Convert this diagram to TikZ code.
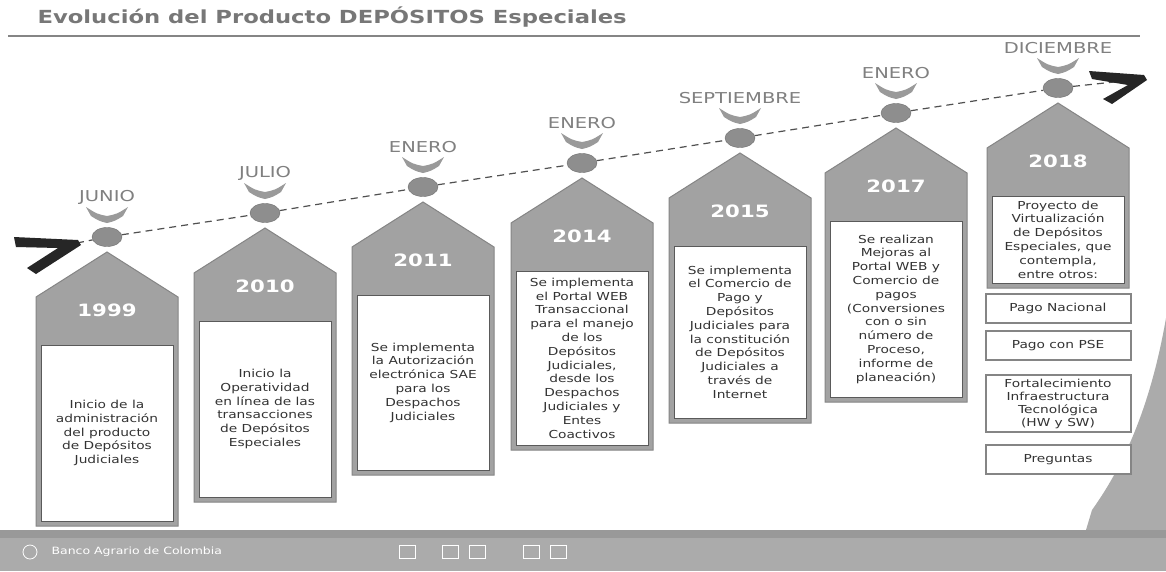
\documentclass[tikz,border=0pt]{standalone}
\usepackage{fontspec}
\usepackage{xcolor}
\usepackage{tikz}
\usetikzlibrary{positioning,shapes.geometric}
\setmainfont{DejaVu Sans}
\newfontfamily\bodyfont[FakeStretch=1.25]{DejaVu Sans}
\newfontfamily\widefont[FakeStretch=1.3]{DejaVu Sans}
\newfontfamily\yearfont[FakeStretch=1.25]{DejaVu Sans}
\newfontfamily\titlefont[FakeStretch=1.26]{DejaVu Sans}
\definecolor{tagfill}{HTML}{A2A2A2}
\definecolor{tagedge}{HTML}{858585}
\definecolor{cardedge}{HTML}{5A5A5A}
\definecolor{ink}{HTML}{333333}
\definecolor{dotfill}{HTML}{8E8E8E}
\definecolor{dotedge}{HTML}{707070}
\definecolor{chevfill}{HTML}{9A9A9A}
\definecolor{monthgray}{HTML}{808080}
\definecolor{titlegray}{HTML}{777777}
\definecolor{lineink}{HTML}{505050}
\definecolor{footgray}{HTML}{ABABAB}

\begin{document}
\begin{tikzpicture}[x=1pt, y=-1pt,
  tag/.style={fill=tagfill, draw=tagedge, line width=1pt},
  card/.style={draw=cardedge, fill=white, line width=0.8pt, minimum width=132pt, align=center, inner sep=2pt, text=ink, font=\bodyfont\fontsize{11}{13.8}\selectfont},
  extra/.style={card, draw=tagedge, line width=2pt, minimum width=145pt, minimum height=29pt, inner sep=1pt, font=\bodyfont\fontsize{11}{13}\selectfont},
  dot/.style={ellipse, fill=dotfill, draw=dotedge, minimum width=30pt, minimum height=19pt, inner sep=0pt},
  chev/.style={fill=chevfill},
  month/.style={text=monthgray, font=\widefont\fontsize{15}{17}\selectfont},
  year/.style={text=white, font=\yearfont\bfseries\fontsize{17}{20}\selectfont},
  timeline/.style={draw=lineink, line width=1.2pt, dash pattern=on 7pt off 5pt},
  icon/.style={draw=white, line width=0.8pt, minimum width=16pt, minimum height=13pt, inner sep=0pt}]
  \useasboundingbox (0,0) rectangle (1166,571);
  \fill[white] (0,0) rectangle (1166,571);

  % title and rule
  \node[anchor=west, text=titlegray, font=\titlefont\bfseries\fontsize{18}{21}\selectfont] (title) at (34,17) {Evolución del Producto DEPÓSITOS Especiales};
  \draw[tagedge, line width=1.5pt] (8,36) -- (1140,36);

  % swoosh at the bottom right
  \fill[footgray] (1166,318) .. controls (1150,410) and (1122,468) .. (1092,510) -- (1086,530) -- (1166,530) -- cycle;

  % the seven tags
  \foreach \i/\cx/\ap/\bt/\mon/\yr/\txt in {
    1/107/252/526/JUNIO/1999/{Inicio de la\\administración\\del producto\\de Depósitos\\Judiciales},
    2/265/228/502/JULIO/2010/{Inicio la\\Operatividad\\en línea de las\\transacciones\\de Depósitos\\Especiales},
    3/423/202/475/ENERO/2011/{Se implementa\\la Autorización\\electrónica SAE\\para los\\Despachos\\Judiciales},
    4/582/178/450/ENERO/2014/{Se implementa\\el Portal WEB\\Transaccional\\para el manejo\\de los\\Depósitos\\Judiciales,\\desde los\\Despachos\\Judiciales y\\Entes\\Coactivos},
    5/740/153/423/SEPTIEMBRE/2015/{Se implementa\\el Comercio de\\Pago y\\Depósitos\\Judiciales para\\la constitución\\de Depósitos\\Judiciales a\\través de\\Internet},
    6/896/128/402/ENERO/2017/{Se realizan\\Mejoras al\\Portal WEB y\\Comercio de\\pagos\\(Conversiones\\con o sin\\número de\\Proceso,\\informe de\\planeación)},
    7/1058/103/288/DICIEMBRE/2018/{Proyecto de\\Virtualización\\de Depósitos\\Especiales, que\\contempla,\\entre otros:}} {
    \pgfmathsetmacro\sy{\ap+45}
    \pgfmathsetmacro\gy{\ap+93}
    \pgfmathsetmacro\cy{(\gy+\bt-5)/2}
    \pgfmathsetmacro\hh{\bt-5-\gy}
    \draw[tag] (\cx-71,\bt) -- (\cx-71,\sy) -- (\cx,\ap) -- (\cx+71,\sy) -- (\cx+71,\bt) -- cycle;
    \node[card, minimum height=\hh pt] (b\i) at (\cx,\cy) {\txt};
    \node[year] (y\i) at (\cx,\ap+58) {\yr};
    \node[dot] (c\i) at (\cx,\ap-15) {};
    \fill[chev, shift={(\cx,\ap-37)}] (-21,-8) .. controls (-10,-1) .. (0,1) .. controls (10,-1) .. (21,-8) -- (16,1) .. controls (8,6) .. (0,8) .. controls (-8,6) .. (-16,1) -- cycle;
    \node[month] (m\i) at (\cx,\ap-55) {\mon};
  }

  % 2018 items
  \node[extra, below=10pt of b7] (pn) {Pago Nacional};
  \node[extra, below=6pt of pn] (pse) {Pago con PSE};
  \node[extra, below=13pt of pse, minimum height=57pt] (infra) {Fortalecimiento\\Infraestructura\\Tecnológica\\(HW y SW)};
  \node[extra, below=11pt of infra] (faq) {Preguntas};

  % timeline
  \coordinate (tail) at (77,243);
  \coordinate (head) at (1142,79);
  \draw[timeline] (tail) -- (c1) -- (c2) -- (c3) -- (c4) -- (c5) -- (c6) -- (c7) -- (head);
  \fill[black!85] (14,237) -- (78,240) -- (81,245) -- (36,274) -- (27,268) -- (58,248) -- (16,247) -- cycle;
  \fill[black!85] (1089,71) -- (1144,75) -- (1147,80) -- (1112,104) -- (1103,99) -- (1128,85) -- (1092,79) -- cycle;

  % footer
  \fill[footgray] (0,530) rectangle (1166,571);
  \fill[black!40] (0,530) rectangle (1166,538);
  \draw[white, line width=0.8pt] (30,552) circle (7);
  \node[anchor=west, text=white, font=\bodyfont\fontsize{10}{12}\selectfont] (bank) at (48,552) {Banco Agrario de Colombia};
  \foreach \k/\ix in {1/407, 2/450, 3/477, 4/531, 5/558}
    \node[icon] (i\k) at (\ix,552) {};
\end{tikzpicture}
\end{document}
